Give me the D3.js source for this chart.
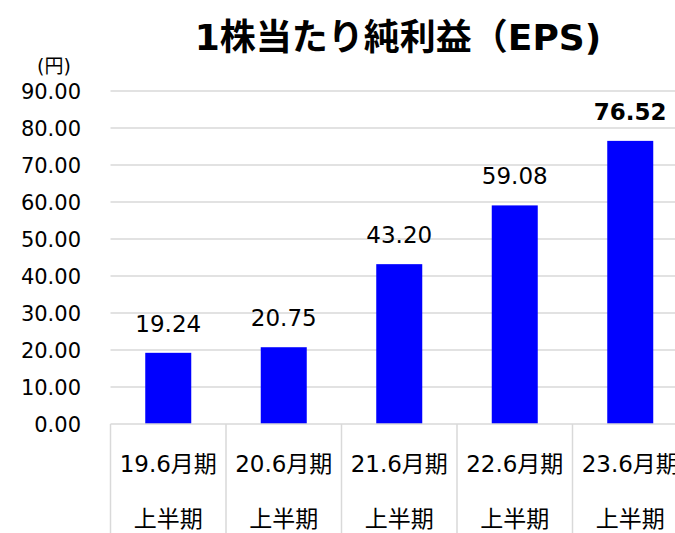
<!DOCTYPE html>
<html><head><meta charset="utf-8">
<script src="https://cdn.jsdelivr.net/npm/d3@7"></script>
<style>
html,body{margin:0;padding:0;background:#fff;}
svg{display:block;font-family:"DejaVu Sans","Noto Sans CJK JP",sans-serif;}
</style></head>
<body><svg id="c" width="675" height="533"></svg>
<script>
const categories = ["19.6月期", "20.6月期", "21.6月期", "22.6月期", "23.6月期"];
const subLabel = "上半期";
const eps = [19.24, 20.75, 43.20, 59.08, 76.52];
const valueLabels = ["19.24", "20.75", "43.20", "59.08", "76.52"];
const yTicks = [0, 10, 20, 30, 40, 50, 60, 70, 80, 90];
const title = "1株当たり純利益（EPS)";
const unit = "(円)";

const svg = d3.select("#c");
const left = 110.5, bandW = 115.5;
const x = d3.scaleBand().domain(categories).range([left, left + bandW * categories.length]).paddingInner(0).paddingOuter(0);
const y = d3.scaleLinear().domain([0, 90]).range([424, 91]);

// gridlines
svg.append("g").selectAll("line").data(yTicks.filter(d => d > 0)).join("line")
  .attr("x1", left).attr("x2", 675).attr("y1", d => y(d)).attr("y2", d => y(d))
  .attr("stroke", "#d9d9d9").attr("stroke-width", 1.5);

// y tick labels
svg.append("g").selectAll("text").data(yTicks).join("text")
  .attr("x", 81).attr("y", d => y(d) + 8).attr("text-anchor", "end")
  .attr("font-size", 21).attr("fill", "#000")
  .text(d => d3.format(".2f")(d));

// unit
svg.append("text").attr("x", 54).attr("y", 73).attr("text-anchor", "middle")
  .attr("font-size", 19).attr("fill", "#000").text(unit);

// bars
const barW = 46;
svg.append("g").selectAll("rect").data(eps).join("rect")
  .attr("x", (d, i) => x(categories[i]) + x.bandwidth() / 2 - barW / 2)
  .attr("width", barW)
  .attr("y", d => y(d)).attr("height", d => y(0) - y(d))
  .attr("fill", "#0000ff");

// axis line and category separators
svg.append("line").attr("x1", left).attr("x2", 675).attr("y1", y(0)).attr("y2", y(0))
  .attr("stroke", "#d9d9d9").attr("stroke-width", 1.5);
svg.append("g").selectAll("line").data(categories).join("line")
  .attr("x1", d => x(d)).attr("x2", d => x(d)).attr("y1", y(0)).attr("y2", 533)
  .attr("stroke", "#d9d9d9").attr("stroke-width", 1.5);

// value labels
svg.append("g").selectAll("text").data(eps).join("text")
  .attr("x", (d, i) => x(categories[i]) + x.bandwidth() / 2)
  .attr("y", d => y(d) - 21)
  .attr("text-anchor", "middle").attr("font-size", 23)
  .attr("font-weight", (d, i) => i === eps.length - 1 ? "bold" : "normal")
  .attr("fill", "#000")
  .text((d, i) => valueLabels[i]);

// category labels
const cl = svg.append("g");
cl.selectAll("text.a").data(categories).join("text").attr("class", "a")
  .attr("x", d => x(d) + x.bandwidth() / 2).attr("y", 472)
  .attr("text-anchor", "middle").attr("font-size", 23).attr("fill", "#000").text(d => d);
cl.selectAll("text.b").data(categories).join("text").attr("class", "b")
  .attr("x", d => x(d) + x.bandwidth() / 2).attr("y", 527)
  .attr("text-anchor", "middle").attr("font-size", 23).attr("fill", "#000").text(subLabel);

// title
svg.append("text").attr("x", 398).attr("y", 50).attr("text-anchor", "middle")
  .attr("font-size", 36).attr("font-weight", "bold").attr("fill", "#000").text(title);
</script></body></html>
